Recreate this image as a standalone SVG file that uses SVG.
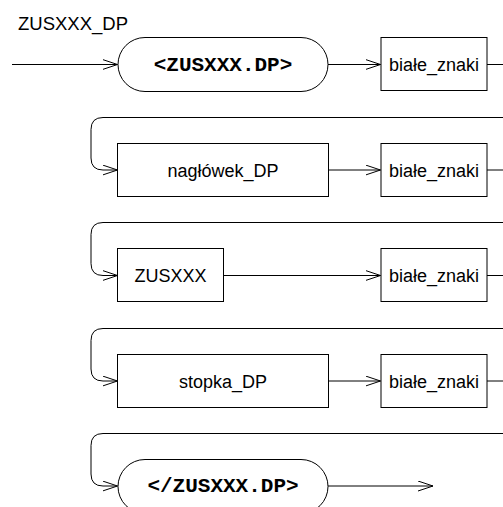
<svg xmlns="http://www.w3.org/2000/svg" width="503" height="507" viewBox="0 0 503 507">
<style>
.box{fill:#fff;stroke:#000;stroke-width:1}
.ln{fill:none;stroke:#000;stroke-width:1}
.t{font-family:"Liberation Sans",Arial,sans-serif;font-size:18px;fill:#000;text-anchor:middle}
.m{font-family:"Liberation Mono","Courier New",monospace;font-size:21px;font-weight:bold;fill:#000;text-anchor:middle}
</style>
<defs>
<marker id="ah" markerWidth="16" markerHeight="12" refX="15" refY="5.5" orient="auto" markerUnits="userSpaceOnUse">
<path d="M0,0.5 L15,5.5 L0,10.5" fill="none" stroke="#000" stroke-width="1"/>
</marker>
</defs>
<text x="18" y="29.5" font-family="Liberation Sans, Arial, sans-serif" font-size="18.5" fill="#000">ZUSXXX_DP</text>
<g id="connectors">
<path class="ln" d="M12,64.5 H117.5" marker-end="url(#ah)"/>
<path class="ln" d="M328,64.5 H380.5" marker-end="url(#ah)"/>
<path class="ln" d="M487,64.5 H503"/>
<path class="ln" d="M503,117.5 H103 Q91,117.5 91,129.5 V158 Q91,170 103,170 H117.5" marker-end="url(#ah)"/>
<path class="ln" d="M328,170 H380.5" marker-end="url(#ah)"/>
<path class="ln" d="M487,170 H503"/>
<path class="ln" d="M503,222.5 H103 Q91,222.5 91,234.5 V263.5 Q91,275.5 103,275.5 H117.5" marker-end="url(#ah)"/>
<path class="ln" d="M223,275.5 H380.5" marker-end="url(#ah)"/>
<path class="ln" d="M487,275.5 H503"/>
<path class="ln" d="M503,328.5 H103 Q91,328.5 91,340.5 V369 Q91,381 103,381 H117.5" marker-end="url(#ah)"/>
<path class="ln" d="M328,381 H380.5" marker-end="url(#ah)"/>
<path class="ln" d="M487,381 H503"/>
<path class="ln" d="M503,433.5 H103 Q91,433.5 91,445.5 V474 Q91,486 103,486 H117.5" marker-end="url(#ah)"/>
<path class="ln" d="M328,486 H433" marker-end="url(#ah)"/>
</g>
<g id="start"><rect class="box" x="118" y="37.5" width="210" height="54" rx="27" ry="27"/><text class="m" x="223" y="70.5">&lt;ZUSXXX.DP&gt;</text></g>
<g id="ws1"><rect class="box" x="381" y="37.5" width="106" height="53"/><text class="t" x="434" y="70.5">białe_znaki</text></g>
<g id="naglowek"><rect class="box" x="117.5" y="143.5" width="211" height="53"/><text class="t" x="223" y="176.5">nagłówek_DP</text></g>
<g id="ws2"><rect class="box" x="381" y="143.5" width="106" height="53"/><text class="t" x="434" y="176.5">białe_znaki</text></g>
<g id="zusxxx"><rect class="box" x="117.5" y="248.5" width="106" height="53"/><text class="t" x="170.5" y="282">ZUSXXX</text></g>
<g id="ws3"><rect class="box" x="381" y="248.5" width="106" height="53"/><text class="t" x="434" y="282">białe_znaki</text></g>
<g id="stopka"><rect class="box" x="117.5" y="354.5" width="211" height="53"/><text class="t" x="223" y="387.5">stopka_DP</text></g>
<g id="ws4"><rect class="box" x="381" y="354.5" width="106" height="53"/><text class="t" x="434" y="387.5">białe_znaki</text></g>
<g id="end"><rect class="box" x="118" y="459.5" width="210" height="54" rx="27" ry="27"/><text class="m" x="223" y="492">&lt;/ZUSXXX.DP&gt;</text></g>
</svg>
